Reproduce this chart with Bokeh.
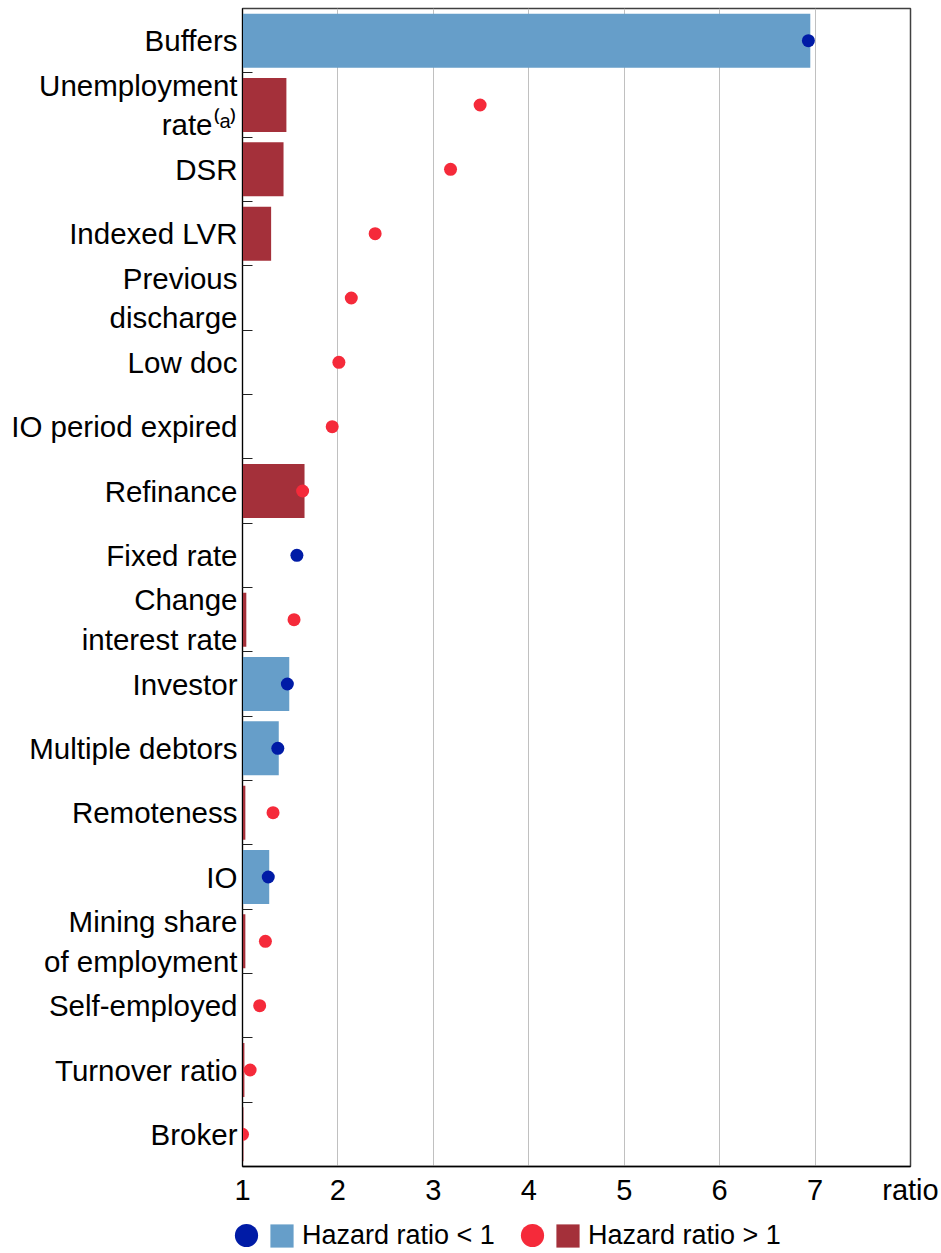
from bokeh.plotting import figure
from bokeh.layouts import column
from bokeh.models import Range1d, FixedTicker, Legend, LegendItem, ColumnDataSource
from bokeh.embed import file_html
from bokeh.resources import INLINE
from bokeh.core.properties import value

categories = ["Buffers", "Unemployment\nrate\u207d\u1d43\u207e", "DSR", "Indexed LVR",
              "Previous\ndischarge", "Low doc", "IO period expired", "Refinance",
              "Fixed rate", "Change\ninterest rate", "Investor", "Multiple debtors",
              "Remoteness", "IO", "Mining share\nof employment", "Self-employed",
              "Turnover ratio", "Broker"]
bar_values = [6.95, 1.46, 1.43, 1.30, None, None, None, 1.65, None, 1.04, 1.49,
              1.38, 1.03, 1.28, 1.03, None, 1.02, 1.01]
dot_values = [6.93, 3.49, 3.18, 2.39, 2.14, 2.01, 1.94, 1.63, 1.57, 1.54, 1.47,
              1.37, 1.32, 1.27, 1.24, 1.18, 1.08, 1.00]
below_one = [True, False, False, False, False, False, False, False, True, False,
             True, True, False, True, False, False, False, False]
x_ticks = [1, 2, 3, 4, 5, 6, 7, 8]
x_tick_labels = ["1", "2", "3", "4", "5", "6", "7", "ratio"]
legend_labels = ["Hazard ratio < 1", "Hazard ratio > 1"]

BAR_BLUE, BAR_RED = "#669ec9", "#a4303a"
DOT_BLUE, DOT_RED = "#001ba6", "#f52a3a"
FONT = "Liberation Sans"
NAN = float("nan")

n = len(categories)
positions = list(range(n))
src = ColumnDataSource(dict(
    y=positions,
    bar=[NAN if v is None else v for v in bar_values],
    dot=dot_values,
    bar_color=[BAR_BLUE if b else BAR_RED for b in below_one],
    dot_color=[DOT_BLUE if b else DOT_RED for b in below_one],
))

p = figure(width=941, height=1210, x_range=Range1d(1, 8), y_range=Range1d(n - 0.5, -0.5),
           output_backend="svg", toolbar_location=None, frame_align=False,
           min_border_left=242, min_border_right=31, min_border_top=8, min_border_bottom=44)

p.hbar(y="y", left=1, right="bar", height=0.84, fill_color="bar_color",
       line_color=None, source=src)
p.scatter(x="dot", y="y", size=13, fill_color="dot_color", line_color=None, source=src)

# y axis
p.yaxis.ticker = FixedTicker(ticks=positions, minor_ticks=[i + 0.5 for i in range(n - 1)])
p.yaxis.major_label_overrides = {i: c for i, c in zip(positions, categories)}
p.yaxis.major_tick_line_color = None
p.yaxis.minor_tick_in = 10
p.yaxis.minor_tick_out = 0
p.yaxis.minor_tick_line_color = "#222222"
p.yaxis.axis_line_color = "black"
p.yaxis.major_label_standoff = -1
p.yaxis.major_label_text_font = FONT
p.yaxis.major_label_text_font_size = "29.5px"
p.yaxis.major_label_text_color = "black"

# x axis
p.xaxis.ticker = FixedTicker(ticks=x_ticks)
p.xaxis.major_label_overrides = {t: l for t, l in zip(x_ticks, x_tick_labels)}
p.xaxis.major_tick_line_color = None
p.xaxis.minor_tick_line_color = None
p.xaxis.axis_line_color = "black"
p.xaxis.axis_line_width = 1.5
p.xaxis.major_label_standoff = 1
p.xaxis.major_label_text_font = FONT
p.xaxis.major_label_text_font_size = "29px"
p.xaxis.major_label_text_color = "black"

p.ygrid.visible = False
p.xgrid.ticker = FixedTicker(ticks=x_ticks[1:-1])
p.xgrid.grid_line_color = "#c0c0c0"
p.xgrid.grid_line_width = 1

p.outline_line_color = "#404040"
p.outline_line_width = 1.5

# legend strip below the chart
lp = figure(width=941, height=43, x_range=Range1d(0, 1), y_range=Range1d(0, 1),
            output_backend="svg", toolbar_location=None, x_axis_type=None, y_axis_type=None,
            frame_align=False, min_border=0, min_border_left=0, min_border_right=0,
            min_border_top=0, min_border_bottom=0)
lp.outline_line_color = None
lp.grid.visible = False

def legend_entry(renderer, label, loc, gsize, standoff, lwidth):
    lg = Legend(items=[LegendItem(label=value(label), renderers=[renderer], index=0)],
                location=loc, orientation="horizontal", glyph_width=gsize, glyph_height=gsize,
                label_width=lwidth, label_standoff=standoff, padding=0, margin=0, spacing=0,
                border_line_color=None, background_fill_alpha=0,
                label_text_font=FONT, label_text_font_size="27px", label_text_color="black")
    lp.add_layout(lg)

for lab, dcol, bcol, dx, sx in zip(legend_labels, [DOT_BLUE, DOT_RED], [BAR_BLUE, BAR_RED],
                                   [217, 503], [267, 553]):
    # legend swatches only (no visible data)
    d = lp.scatter(x=[NAN], y=[NAN], size=13, fill_color=dcol, line_color=None)
    b = lp.hbar(y=[NAN], left=[NAN], right=[NAN], height=0.5, fill_color=bcol, line_color=None)
    legend_entry(d, "", (dx, -11), 58, 0, 0)
    legend_entry(b, lab, (sx, 2), 29, 6, 20)

layout = column(p, lp, spacing=0)
open("out.html", "w").write(file_html(layout, INLINE))
